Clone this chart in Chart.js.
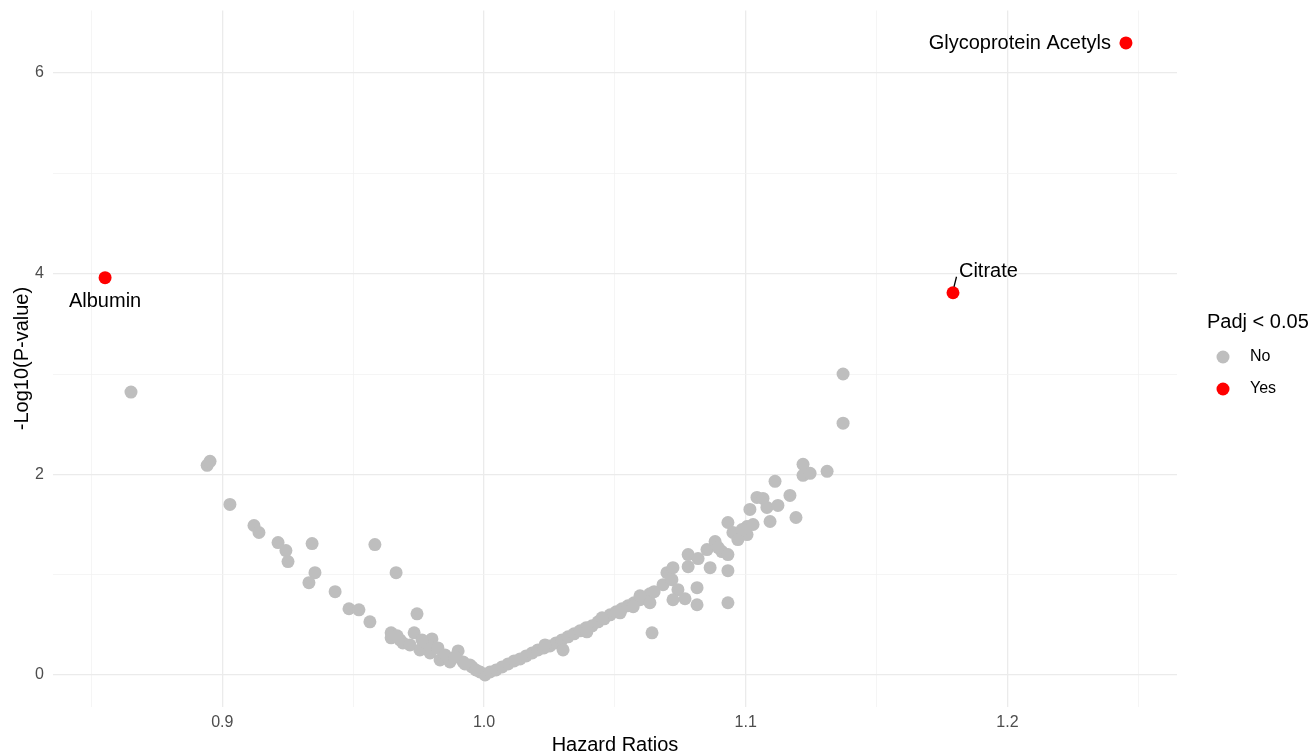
<!DOCTYPE html>
<html>
<head>
<meta charset="utf-8">
<script src="https://cdn.jsdelivr.net/npm/chart.js@4.4.1/dist/chart.umd.min.js"></script>
<style>
  html, body { margin: 0; padding: 0; background: #ffffff; }
  #wrap { position: relative; width: 1316px; height: 755px; }
</style>
</head>
<body>
<div id="wrap"><canvas id="volcano"></canvas></div>
<script>
// Metabolites not significant after adjustment (Padj >= 0.05)
const hrNo = [
  0.8651, 0.8942, 0.8953, 0.9029, 0.9121, 0.9140, 0.9213, 0.9243, 0.9251, 0.9343,
  0.9354, 0.9331, 0.9431, 0.9484, 0.9522, 0.9564, 0.9583, 0.9664, 0.9744, 0.9645,
  0.9645, 0.9733, 0.9679, 0.9801, 0.9901, 0.9690, 0.9755, 0.9794, 0.9832, 0.9870,
  0.9920, 0.9954, 0.9985, 0.9786, 0.9824, 0.9870, 0.9946, 1.0004, 0.9717, 0.9851,
  0.9889, 0.9927, 0.9969, 0.9668, 0.9763,
  1.0023, 1.0046, 1.0069, 1.0092, 1.0115, 1.0138, 1.0161, 1.0184, 1.0206, 1.0229,
  1.0252, 1.0275, 1.0298, 1.0321, 1.0344, 1.0367, 1.0390, 1.0413, 1.0436, 1.0459,
  1.0482, 1.0505, 1.0527, 1.0550, 1.0573, 1.0596, 1.0619, 1.0634,
  1.0302, 1.0451, 1.0233, 1.0393, 1.0520, 1.0570, 1.0634, 1.0642, 1.0684, 1.0699,
  1.0722, 1.0718, 1.0741, 1.0722, 1.0768, 1.0780, 1.0780, 1.0818, 1.0814, 1.0814,
  1.0852, 1.0864, 1.0883, 1.0909, 1.0932, 1.0932, 1.0932, 1.0932, 1.0951, 1.1005,
  1.1005, 1.1016, 1.1028, 1.1043, 1.1066, 1.1081, 1.1093, 1.1112, 1.1123, 1.1169,
  1.1192, 1.1219, 1.1219, 1.1246, 1.1311, 1.1372, 1.1372, 1.0650, 1.0596, 1.0970,
  1.0986, 1.0895
];
const logPNo = [
  2.82, 2.09, 2.13, 1.70, 1.49, 1.42, 1.32, 1.24, 1.13, 1.31,
  1.02, 0.92, 0.83, 0.66, 0.65, 0.53, 1.30, 1.02, 0.61, 0.42,
  0.37, 0.42, 0.35, 0.36, 0.24, 0.32, 0.25, 0.22, 0.15, 0.13,
  0.13, 0.08, 0.03, 0.30, 0.27, 0.15, 0.10, 0.00, 0.30, 0.20,
  0.18, 0.11, 0.05, 0.39, 0.35,
  0.03, 0.05, 0.08, 0.11, 0.14, 0.16, 0.19, 0.22, 0.25, 0.27,
  0.29, 0.32, 0.35, 0.38, 0.41, 0.44, 0.47, 0.49, 0.53, 0.56,
  0.60, 0.63, 0.66, 0.69, 0.72, 0.75, 0.78, 0.81,
  0.25, 0.57, 0.30, 0.43, 0.62, 0.68, 0.72, 0.42, 0.90, 1.02,
  1.07, 0.95, 0.85, 0.75, 0.76, 1.20, 1.08, 1.16, 0.87, 0.70,
  1.25, 1.07, 1.33, 1.23, 1.52, 1.20, 1.04, 0.72, 1.42, 1.48,
  1.40, 1.65, 1.50, 1.77, 1.76, 1.67, 1.53, 1.93, 1.69, 1.79,
  1.57, 2.10, 1.99, 2.01, 2.03, 3.00, 2.51, 0.83, 0.79, 1.35,
  1.45, 1.27
];

// Metabolites significant after adjustment (Padj < 0.05)
const sigNames = ["Albumin", "Citrate", "Glycoprotein Acetyls"];
const hrYes = [0.8552, 1.1792, 1.2453];
const logPYes = [3.96, 3.81, 6.30];

// Axis breaks: labelled majors and unlabelled minors
const xBreaks = [0.85, 0.90, 0.95, 1.00, 1.05, 1.10, 1.15, 1.20, 1.25];
const xLabelled = [0.9, 1.0, 1.1, 1.2];
const yBreaks = [0, 1, 2, 3, 4, 5, 6];
const yLabelled = [0, 2, 4, 6];

const FONT = "'Liberation Sans', Arial, Helvetica, sans-serif";
const GREY = '#bebebe';
const RED = '#ff0000';

const isIn = (v, list) => list.some(b => Math.abs(b - v) < 1e-6);

const noPoints = hrNo.map((x, i) => ({ x: x, y: logPNo[i] }));
const yesPoints = hrYes.map((x, i) => ({ x: x, y: logPYes[i], name: sigNames[i] }));

// Text labels for the significant points, with ggrepel-like placement
const labelPlacement = {
  "Albumin": { dx: 0, dy: 24, align: 'center' },
  "Citrate": { dx: 6, dy: -21, align: 'left', leader: [1, -6, 3.5, -16] },
  "Glycoprotein Acetyls": { dx: -15, dy: 0.5, align: 'right' }
};

const pointLabels = {
  id: 'pointLabels',
  afterDatasetsDraw(chart) {
    const { ctx, scales } = chart;
    ctx.save();
    ctx.font = '20px ' + FONT;
    ctx.fillStyle = '#000000';
    ctx.textBaseline = 'middle';
    yesPoints.forEach(p => {
      const px = scales.x.getPixelForValue(p.x);
      const py = scales.y.getPixelForValue(p.y);
      const pl = labelPlacement[p.name];
      if (pl.leader) {
        ctx.beginPath();
        ctx.strokeStyle = '#000000';
        ctx.lineWidth = 1.3;
        ctx.moveTo(px + pl.leader[0], py + pl.leader[1]);
        ctx.lineTo(px + pl.leader[2], py + pl.leader[3]);
        ctx.stroke();
      }
      ctx.textAlign = pl.align;
      ctx.fillText(p.name, px + pl.dx, py + pl.dy);
    });
    ctx.restore();
  }
};

// Legend drawn to the right of the panel
const sideLegend = {
  id: 'sideLegend',
  afterDraw(chart) {
    const { ctx } = chart;
    ctx.save();
    ctx.textBaseline = 'middle';
    ctx.textAlign = 'left';
    ctx.fillStyle = '#000000';
    ctx.font = '20px ' + FONT;
    ctx.fillText('Padj < 0.05', 1207, 322);
    const items = [{ label: 'No', color: GREY, y: 357 }, { label: 'Yes', color: RED, y: 389 }];
    ctx.font = '16px ' + FONT;
    items.forEach(it => {
      ctx.beginPath();
      ctx.fillStyle = it.color;
      ctx.arc(1223, it.y, 6.5, 0, Math.PI * 2);
      ctx.fill();
      ctx.fillStyle = '#000000';
      ctx.fillText(it.label, 1250, it.y);
    });
    ctx.restore();
  }
};

const gridColor = (list) => (c) => isIn(c.tick.value, list) ? '#ebebeb' : '#f3f3f3';
const gridWidth = (list) => (c) => isIn(c.tick.value, list) ? 1.3 : 0.8;

new Chart(document.getElementById('volcano'), {
  type: 'scatter',
  data: {
    datasets: [
      { label: 'No', data: noPoints, backgroundColor: GREY, borderWidth: 0, pointRadius: 6.5, pointHoverRadius: 6.5 },
      { label: 'Yes', data: yesPoints, backgroundColor: RED, borderWidth: 0, pointRadius: 6.5, pointHoverRadius: 6.5 }
    ]
  },
  options: {
    responsive: true,
    maintainAspectRatio: false,
    animation: false,
    layout: { padding: { top: 10.5, right: 139, left: 0, bottom: 0 } },
    plugins: { legend: { display: false }, tooltip: { enabled: false } },
    scales: {
      x: {
        type: 'linear',
        min: 0.8353,
        max: 1.2648,
        afterBuildTicks: (s) => { s.ticks = xBreaks.map(v => ({ value: v })); },
        afterFit: (s) => { s.height = 48.4; s.paddingLeft = 0; s.paddingRight = 0; },
        border: { display: false },
        grid: { drawTicks: false, color: gridColor(xLabelled), lineWidth: gridWidth(xLabelled) },
        ticks: {
          autoSkip: false, maxRotation: 0, padding: 6,
          color: '#4d4d4d', font: { family: FONT, size: 16 },
          callback: (v) => isIn(v, xLabelled) ? Number(v).toFixed(1) : ''
        },
        title: {
          display: true, text: 'Hazard Ratios', color: '#000000',
          font: { family: FONT, size: 20, lineHeight: 1 }, padding: 0
        }
      },
      y: {
        type: 'linear',
        min: -0.315,
        max: 6.623,
        afterBuildTicks: (s) => { s.ticks = yBreaks.map(v => ({ value: v })); },
        afterFit: (s) => { s.width = 53; s.paddingTop = 0; s.paddingBottom = 0; },
        border: { display: false },
        grid: { drawTicks: false, color: gridColor(yLabelled), lineWidth: gridWidth(yLabelled) },
        ticks: {
          autoSkip: false, padding: 9,
          color: '#4d4d4d', font: { family: FONT, size: 16 },
          callback: (v) => isIn(v, yLabelled) ? String(v) : ''
        },
        title: {
          display: true, text: '-Log10(P-value)', color: '#000000',
          font: { family: FONT, size: 20, lineHeight: 1 }, padding: { top: 12, bottom: 0 }
        }
      }
    }
  },
  plugins: [pointLabels, sideLegend]
});
</script>
</body>
</html>
